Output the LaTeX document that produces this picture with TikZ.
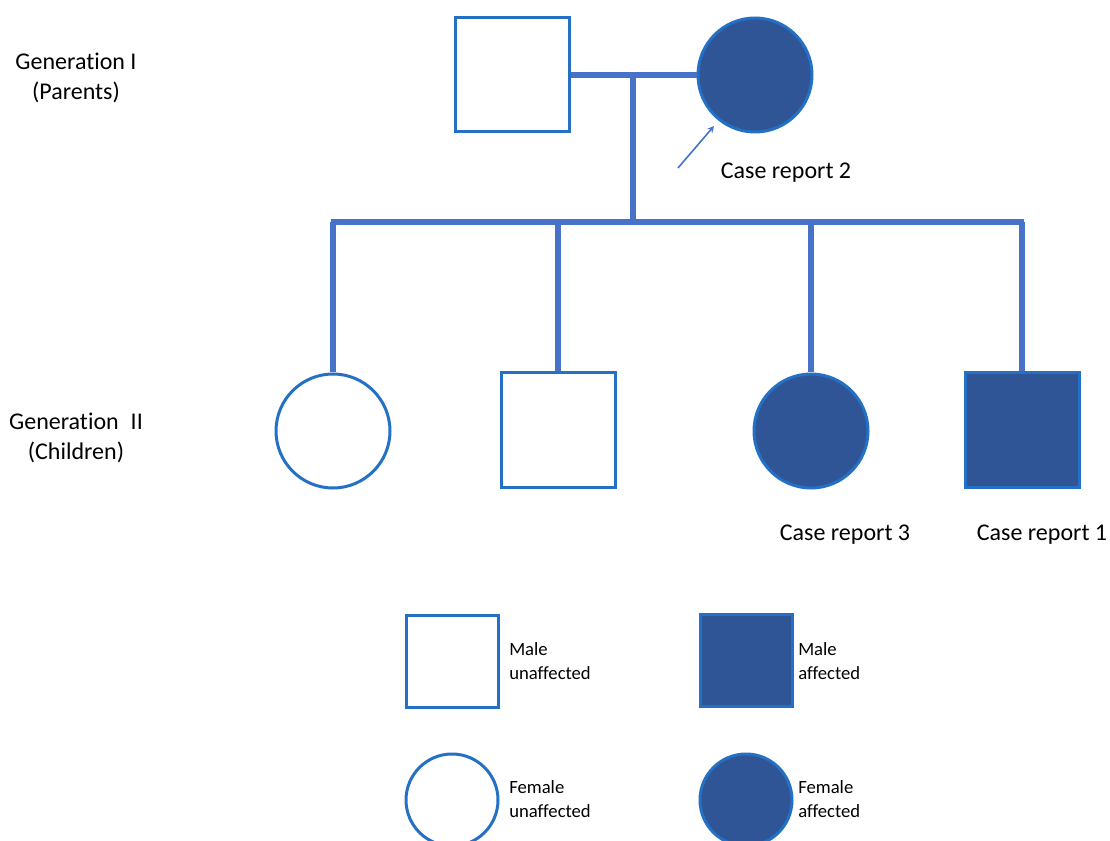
\documentclass[tikz,border=0pt]{standalone}
\usepackage{fontspec}
\setmainfont[Ligatures=NoCommon]{Carlito}
\usetikzlibrary{arrows,calc,positioning}

\definecolor{pedline}{RGB}{70,115,200}
\definecolor{pededge}{RGB}{36,112,196}
\definecolor{pedfill}{RGB}{47,85,151}

\tikzset{
  male/.style={draw=pededge, line width=2.25pt, rectangle, minimum size=85.5pt, inner sep=0pt},
  female/.style={draw=pededge, line width=2.25pt, circle, minimum size=85.5pt, inner sep=0pt},
  affected/.style={fill=pedfill},
  keymale/.style={male, minimum size=69pt},
  keyfemale/.style={female, minimum size=69pt},
  link/.style={draw=pedline, line width=4.5pt},
  bigtext/.style={font=\fontsize{18}{22.5}\selectfont, align=center, inner sep=0pt},
  keytext/.style={font=\fontsize{14}{18}\selectfont, align=left, anchor=west, inner sep=0pt}
}

\begin{document}
\begin{tikzpicture}[x=0.75pt, y=-0.75pt]
\useasboundingbox (0,0) rectangle (1110,841);

\node[male] (dad) at (512,75) {};
\node[female, affected] (mum) at (755,75) {};

\coordinate (mate) at (633,75);
\coordinate (sibl) at (333,222);
\coordinate (sibr) at (1022,222);

\node[female] (c1) at (333,431) {};
\node[male] (c2) at (558,430) {};
\node[female, affected] (c3) at (811,431) {};
\node[male, affected] (c4) at (1022,430) {};

\draw[link] (dad.east) -- (mum.west);
\draw[link] (mate) -- (mate |- sibl);
\draw[link] ($(sibl)+(-2.25,0)$) -- ($(sibr)+(2.25,0)$);
\foreach \c in {c1,c2,c3,c4}
  \draw[link] (\c.north) -- (\c.north |- sibl);

\coordinate (tail) at (678,168);
\coordinate (head) at (714,126);
\draw[pedline, line width=1.2pt, -stealth] (tail) -- (head);

\node[bigtext] (gen1) at (76,78) {Generation I\\(Parents)};
\node[bigtext] (gen2) at (76,438) {Generation\enspace II\\(Children)};
\node[bigtext] (case2) at (786,173) {Case report 2};
\node[bigtext] (case3) at (845,535) {Case report 3};
\node[bigtext] (case1) at (1042,535) {Case report 1};

\node[keymale] (kmu) at (452,661) {};
\node[keymale, affected] (kma) at (746,660) {};
\node[keyfemale] (kfu) at (452,800) {};
\node[keyfemale, affected] (kfa) at (746,800) {};

\node[keytext] at (509,661) {Male\\unaffected};
\node[keytext] at (798,661) {Male\\affected};
\node[keytext] at (509,799) {Female\\unaffected};
\node[keytext] at (798,799) {Female\\affected};
\end{tikzpicture}
\end{document}
